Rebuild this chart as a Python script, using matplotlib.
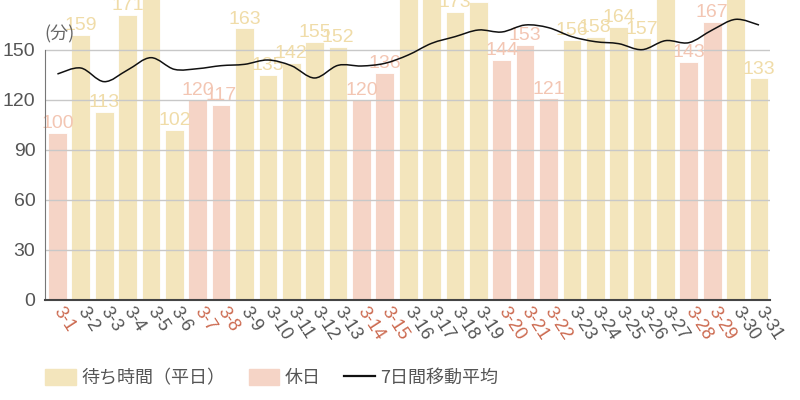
import matplotlib
matplotlib.use("Agg")
import matplotlib.pyplot as plt
from matplotlib.patches import Patch, PathPatch
from matplotlib.path import Path
from matplotlib.lines import Line2D
import numpy as np

# data (values above 180 are cut off there, so they are estimates)
days = ["3-%d" % d for d in range(1, 32)]
wait = [100, 159, 113, 171, 186, 102, 120, 117, 163, 135, 142, 155, 152, 120, 136, 198,
        184, 173, 179, 144, 153, 121, 156, 158, 164, 157, 182, 143, 167, 195, 133]
holidays = ["3-1", "3-7", "3-8", "3-14", "3-15", "3-20", "3-21", "3-22", "3-28", "3-29"]
avg7 = [135.6, 139.2, 131.0, 138.0, 145.4, 138.4, 138.8, 140.6, 141.4, 144.0, 140.6,
        133.2, 140.8, 140.4, 142.0, 147.0, 154.0, 158.0, 162.0, 160.8, 165.0, 163.4,
        158.0, 155.0, 153.8, 150.2, 155.6, 154.4, 162.0, 168.4, 165.0]
yticks = [0, 30, 60, 90, 120, 150]

c_week = "#f3e5bc"
c_hol = "#f5d4c6"
c_week_txt = "#f0dca8"
c_hol_txt = "#f3c6b3"
c_hol_tick = "#cc6a50"
c_tick = "#555555"

cjk = ["Noto Sans CJK JP", "DejaVu Sans"]
lib = ["Liberation Sans", "DejaVu Sans"]


def smooth_path(xs, ys):
    # catmull-rom curve through the points, as cubic bezier segments
    pts = np.column_stack([xs, ys]).astype(float)
    n = len(pts)
    verts = [pts[0]]
    codes = [Path.MOVETO]
    for i in range(n - 1):
        p0 = pts[i - 1] if i > 0 else pts[i]
        p1 = pts[i]
        p2 = pts[i + 1]
        p3 = pts[i + 2] if i + 2 < n else pts[i + 1]
        verts += [p1 + (p2 - p0) / 6, p2 - (p3 - p1) / 6, p2]
        codes += [Path.CURVE4] * 3
    return Path(verts, codes)


fig = plt.figure(figsize=(8, 4), dpi=100)
ax = fig.add_axes([45 / 800, 0.25, 725 / 800, 0.75])

x = np.arange(len(days))
is_hol = [d in holidays for d in days]
colors = [c_hol if h else c_week for h in is_hol]
ax.bar(x, wait, width=0.8, color=colors, edgecolor="white", linewidth=0.6, zorder=1)

for i, v in enumerate(wait):
    ax.text(x[i], v + 0.5, str(v), ha="center", va="bottom", fontsize=14,
            family=lib, color=c_hol_txt if is_hol[i] else c_week_txt, zorder=3)

ax.add_patch(PathPatch(smooth_path(x, avg7), fill=False, edgecolor="#111111",
                       linewidth=1.1, zorder=4))

ax.set_xlim(-0.53, 30.47)
ax.set_ylim(0, 180)
ax.set_yticks(yticks)
ax.set_yticklabels([str(t) for t in yticks], family=lib, fontsize=14, color=c_tick)
ax.tick_params(axis="y", length=0, pad=7)
ax.yaxis.grid(True, color="#c8c8c8", linewidth=1)
ax.set_axisbelow(False)

ax.set_xticks(x)
ax.set_xticklabels(days, rotation=-57, ha="left", va="center", rotation_mode="anchor",
                   family=lib, fontsize=13)
for lab, h in zip(ax.get_xticklabels(), is_hol):
    lab.set_color(c_hol_tick if h else c_tick)
ax.tick_params(axis="x", length=0, pad=6)

for s in ["top", "right"]:
    ax.spines[s].set_visible(False)
ax.spines["left"].set_bounds(0, 150)
ax.spines["left"].set_color("#777777")
ax.spines["bottom"].set_color("#444444")
ax.spines["bottom"].set_linewidth(1.5)
ax.spines["left"].set_zorder(5)
ax.spines["bottom"].set_zorder(5)

fig.text(44 / 800, 1 - 34 / 400, "(分)", family=cjk, fontsize=13, color="#666666",
         ha="left", va="center")

handles = [Patch(color=c_week), Patch(color=c_hol), Line2D([], [], color="#111111", lw=1.6)]
fig.legend(handles, ["待ち時間（平日）", "休日", "7日間移動平均"], loc="center left",
           bbox_to_anchor=(45 / 800, 22 / 400), bbox_transform=fig.transFigure,
           ncol=3, frameon=False, prop={"family": cjk, "size": 13}, labelcolor="#555555",
           handlelength=1.7, handleheight=0.95, handletextpad=0.3, columnspacing=1.3,
           borderpad=0, borderaxespad=0)

fig.savefig("out.png", dpi=100, facecolor="white")
